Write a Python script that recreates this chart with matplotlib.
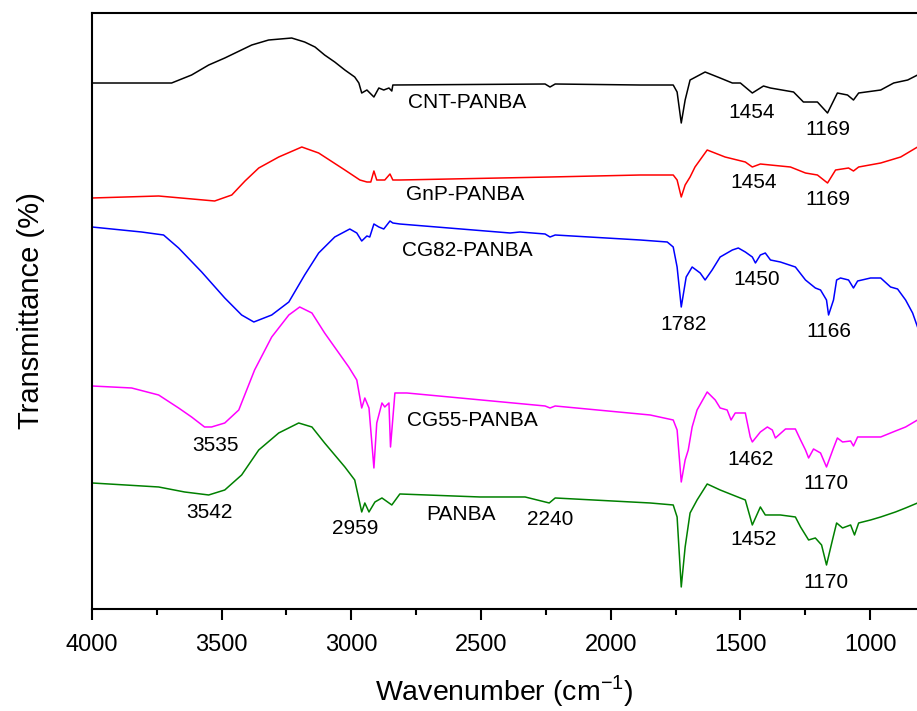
#FTIR spectra of PANBA and its carbon-filler composites
#Curves are stacked with offsets, y axis is arbitrary transmittance units

import numpy as np
import matplotlib
matplotlib.use('Agg')
import matplotlib.pyplot as plt
from matplotlib.ticker import MultipleLocator

plt.rcParams['font.family'] = ['Liberation Sans', 'DejaVu Sans']

#Wavenumber (cm-1) / transmittance (a.u., offset)

#CNT-PANBA
wn_cnt = [4000, 3693, 3616, 3550, 3488, 3384, 3319, 3230, 3180, 3140, 3103, 3064, 3025, 2987, 2971,
          2960, 2940, 2913, 2894, 2875, 2855, 2844, 2840, 2253, 2234, 2214, 1886, 1759, 1744,
          1728, 1713, 1694, 1636, 1578, 1531, 1500, 1454, 1411, 1384, 1295, 1257, 1203, 1164,
          1126, 1087, 1064, 1044, 959, 909, 855, 817]
t_cnt = [526, 526, 534, 544, 551, 564, 569, 571, 567, 562, 554, 547, 539, 532, 526,
         516, 519, 512, 521, 519, 521, 518, 524, 525, 522, 525, 524, 524, 517,
         486, 509, 529, 537, 531, 526, 526, 516, 523, 521, 517, 507, 507, 496,
         516, 514, 509, 516, 519, 526, 529, 534]

#GnP-PANBA
wn_gnp = [4000, 3743, 3527, 3461, 3410, 3357, 3280, 3191, 3126, 3025, 2967, 2940, 2925, 2913, 2902,
          2871, 2851, 2840, 2813, 2234, 1886, 1759, 1744, 1728, 1713, 1694, 1675, 1628, 1559,
          1481, 1454, 1423, 1307, 1249, 1203, 1164, 1133, 1083, 1064, 1044, 959, 882, 817]
t_gnp = [411, 413, 408, 414, 428, 441, 452, 462, 456, 439, 429, 427, 427, 438, 429,
         429, 435, 429, 429, 432, 434, 434, 429, 412, 424, 432, 442, 459, 452,
         447, 442, 445, 442, 436, 434, 426, 439, 441, 438, 442, 446, 452, 462]

#CG82-PANBA
wn_cg82 = [4000, 3809, 3724, 3666, 3577, 3488, 3423, 3376, 3307, 3241, 3180, 3126, 3064, 3006,
           2979, 2960, 2940, 2929, 2913, 2894, 2875, 2851, 2840, 2813, 2388, 2350, 2253, 2234,
           2214, 1886, 1782, 1759, 1744, 1728, 1709, 1686, 1655, 1636, 1609, 1578, 1531, 1508,
           1481, 1454, 1442, 1423, 1404, 1384, 1346, 1288, 1249, 1211, 1191, 1168, 1160, 1141,
           1129, 1114, 1083, 1064, 1048, 998, 959, 921, 894, 863, 836, 817]
t_cg82 = [382, 377, 374, 361, 337, 311, 294, 287, 294, 307, 334, 356, 372, 380,
          376, 368, 373, 372, 385, 382, 380, 388, 386, 385, 376, 377, 375, 372,
          374, 369, 367, 362, 342, 302, 332, 342, 336, 329, 339, 352, 359, 361,
          357, 352, 346, 354, 356, 349, 347, 342, 329, 321, 319, 309, 294, 309,
          329, 331, 329, 321, 328, 331, 331, 322, 320, 309, 296, 282]

#CG55-PANBA
wn_cg55 = [4000, 3847, 3743, 3666, 3616, 3566, 3539, 3488, 3434, 3373, 3307, 3241, 3199, 3152,
           3103, 3010, 2979, 2960, 2948, 2932, 2913, 2902, 2882, 2871, 2855, 2849, 2832, 2786,
           2253, 2234, 2214, 1848, 1759, 1744, 1728, 1713, 1701, 1686, 1667, 1628, 1597, 1578,
           1551, 1536, 1520, 1481, 1462, 1454, 1423, 1396, 1377, 1365, 1326, 1288, 1268, 1249,
           1237, 1218, 1191, 1168, 1141, 1126, 1106, 1075, 1064, 1048, 959, 902, 863, 817]
t_cg55 = [223, 221, 214, 201, 192, 182, 182, 186, 199, 239, 272, 294, 302, 296,
          276, 242, 229, 201, 211, 201, 141, 186, 206, 202, 206, 162, 216, 216,
          203, 201, 203, 194, 189, 179, 127, 149, 159, 182, 199, 217, 209, 201,
          199, 189, 196, 196, 172, 167, 177, 182, 179, 171, 180, 180, 169, 159,
          151, 160, 156, 142, 161, 171, 167, 168, 163, 172, 172, 178, 182, 189]

#PANBA
wn_panba = [4000, 3743, 3643, 3550, 3488, 3423, 3357, 3280, 3203, 3152, 3103, 3025, 2987, 2960,
            2948, 2932, 2909, 2882, 2871, 2844, 2813, 2504, 2330, 2237, 2214, 1848, 1759, 1744,
            1728, 1713, 1694, 1667, 1628, 1578, 1520, 1481, 1454, 1423, 1404, 1346, 1288, 1268,
            1237, 1211, 1187, 1168, 1145, 1129, 1106, 1075, 1060, 1044, 998, 959, 902, 863, 817]
t_panba = [126, 122, 117, 114, 119, 134, 159, 176, 186, 182, 166, 142, 129, 97,
           106, 97, 107, 111, 109, 104, 115, 112, 112, 106, 111, 106, 104, 92,
           22, 62, 96, 109, 125, 119, 113, 109, 84, 102, 94, 94, 92, 82,
           69, 71, 64, 44, 69, 86, 81, 84, 74, 86, 89, 92, 97, 101, 106]

#Sample names and peak labels (text, wavenumber, y)
names = ['CNT-PANBA', 'GnP-PANBA', 'CG82-PANBA', 'CG55-PANBA', 'PANBA']
name_x = [2554, 2562, 2552, 2535, 2577]
name_y = [507, 414, 358, 188, 94]

peak_txt = ['1454', '1169', '1454', '1169', '1782', '1450', '1166', '3535', '1462', '1170',
            '3542', '2959', '2240', '1452', '1170']
peak_x = [1458, 1164, 1450, 1164, 1720, 1438, 1160, 3523, 1462, 1172,
          3546, 2987, 2234, 1450, 1172]
peak_y = [497, 480, 427, 409, 284, 329, 277, 163, 149, 125,
          96, 80, 89, 69, 26]

fig = plt.figure(figsize=(9.17, 7.11), dpi=100)
ax = fig.add_axes([0.1003, 0.1435, 0.9, 0.8382])

lw = 1.1
ax.plot(wn_cnt, t_cnt, color='black', lw=lw)
ax.plot(wn_gnp, t_gnp, color='#ff0000', lw=lw)
ax.plot(wn_cg82, t_cg82, color='#0000ff', lw=lw)
ax.plot(wn_cg55, t_cg55, color='#ff00ff', lw=lw)
ax.plot(wn_panba, t_panba, color='#008000', lw=lw)

for n, x, y in zip(names, name_x, name_y):
    ax.text(x, y, n, fontsize=15, ha='center', va='center')
for s, x, y in zip(peak_txt, peak_x, peak_y):
    ax.text(x, y, s, fontsize=15, ha='center', va='center')

ax.set_xlim(4000, 818)
ax.set_ylim(0, 596)
ax.xaxis.set_major_locator(MultipleLocator(500))
ax.xaxis.set_minor_locator(MultipleLocator(250))
ax.tick_params(axis='x', which='major', direction='out', length=8, width=1.5, labelsize=17, pad=10)
ax.tick_params(axis='x', which='minor', direction='out', length=4, width=1.5)
ax.set_yticks([])
for side in ['left', 'top', 'bottom']:
    ax.spines[side].set_linewidth(1.5)
ax.spines['right'].set_visible(False)

ax.set_xlabel(r'Wavenumber (cm$^{\mathregular{-1}}$)', fontsize=20.5, labelpad=12)
ax.set_ylabel('Transmittance (%)', fontsize=21, labelpad=34)

plt.savefig('out.png', dpi=100)
